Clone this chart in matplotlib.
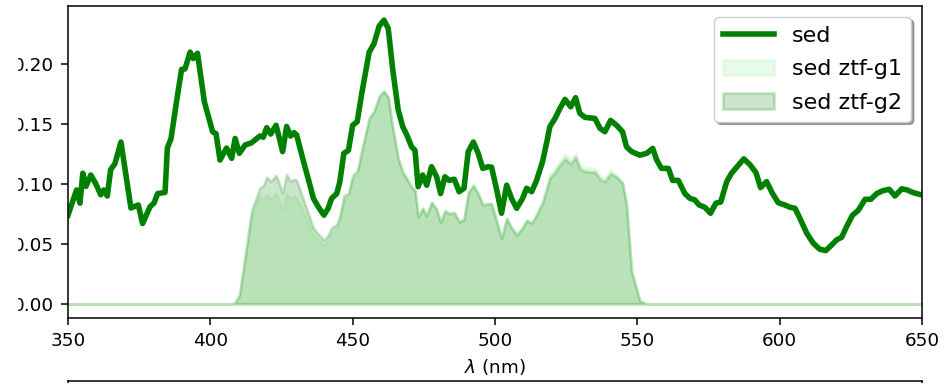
import numpy as np
import matplotlib
matplotlib.use('Agg')
import matplotlib.pyplot as plt
from matplotlib.patches import Rectangle

wave = [350, 353, 354.2, 355.2, 356.3, 358, 359.8, 361.5, 362.6, 363.8,
        365, 366.5, 368.6, 372.1, 374.7, 376.2, 378.8, 380.2, 381.5, 384.1,
        384.9, 386.2, 388.4, 389.9, 391.1, 392.9, 394.0, 395.5, 397.9, 400.8,
        402, 403.4, 405.7, 407.5, 408.7, 410.2, 412.2, 414.5, 417.4, 418.6,
        419.8, 421.2, 423.1, 425.4, 426.8, 428.2, 429.4, 430.3, 432.6, 435,
        436.2, 437.9, 439.9, 441.4, 442.6, 444.4, 445.5, 446.9, 448.5, 450,
        451.6, 453.2, 455.8, 457.5, 459.3, 461, 462.5, 464.1, 466, 467.6,
        469, 470.7, 471.9, 473, 474.6, 476, 477.7, 479.5, 480.9, 482.4,
        483.9, 485.7, 487.4, 489.1, 490.6, 492.4, 494.1, 495.7, 497.6, 498.8,
        500.6, 502.3, 504.1, 505.8, 507.6, 509.7, 511.1, 512.9, 514.6, 516.7,
        518.1, 519.3, 521.1, 522.8, 524.6, 526.6, 528.3, 529.8, 531.6, 535.1,
        536.9, 538.6, 540.6, 542.7, 544.8, 546.2, 548, 550.9, 553.3, 555.4,
        556.8, 558.5, 560.9, 562.4, 564.4, 566.7, 568.5, 570.2, 571.7, 573.7,
        575.7, 577.6, 579.3, 581.4, 583.1, 587.4, 589.6, 591.7, 593.3, 595.4,
        597.5, 599.5, 601.8, 603.6, 605.4, 607.1, 609.5, 611.8, 614.1, 616.2,
        618.2, 620, 621.8, 623.5, 625.6, 627.6, 630, 632, 634.1, 636.2,
        638.5, 640.5, 642.9, 644.8, 646.9, 650]

sed = [0.074, 0.095, 0.084, 0.109, 0.098, 0.1075, 0.100, 0.091, 0.095, 0.090,
       0.112, 0.117, 0.135, 0.080, 0.0825, 0.067, 0.081, 0.084, 0.092, 0.093,
       0.130, 0.138, 0.173, 0.1956, 0.196, 0.210, 0.2047, 0.209, 0.1686, 0.1436,
       0.142, 0.120, 0.130, 0.1214, 0.138, 0.1256, 0.1325, 0.1344, 0.140, 0.139,
       0.147, 0.1417, 0.149, 0.127, 0.148, 0.140, 0.1428, 0.141, 0.120, 0.099,
       0.088, 0.081, 0.074, 0.0797, 0.088, 0.092, 0.102, 0.1256, 0.128, 0.149,
       0.152, 0.1756, 0.210, 0.217, 0.2317, 0.2367, 0.2297, 0.195, 0.1617, 0.1478,
       0.141, 0.131, 0.128, 0.0978, 0.1075, 0.099, 0.1144, 0.106, 0.092, 0.106,
       0.103, 0.104, 0.0936, 0.0964, 0.127, 0.135, 0.1256, 0.113, 0.1144, 0.114,
       0.095, 0.0756, 0.099, 0.088, 0.0797, 0.088, 0.0964, 0.0936, 0.103, 0.1186,
       0.134, 0.148, 0.1547, 0.163, 0.1706, 0.1644, 0.172, 0.159, 0.1556, 0.1547,
       0.1464, 0.1436, 0.153, 0.149, 0.1436, 0.131, 0.127, 0.124, 0.1256, 0.1297,
       0.120, 0.113, 0.113, 0.103, 0.103, 0.092, 0.088, 0.0867, 0.0825, 0.0806,
       0.0756, 0.084, 0.085, 0.102, 0.109, 0.121, 0.116, 0.1094, 0.097, 0.102,
       0.092, 0.0844, 0.0825, 0.0806, 0.0797, 0.0714, 0.059, 0.0506, 0.0456, 0.0444,
       0.049, 0.0533, 0.0556, 0.0644, 0.074, 0.078, 0.0872, 0.0872, 0.092, 0.0944,
       0.0956, 0.090, 0.096, 0.095, 0.0928, 0.0908]

# filter throughput from 408.7 nm to 553.3 nm (zero elsewhere)
band_start = 34
g1_band = [0.0, 0.05, 0.28, 0.55, 0.64, 0.63, 0.62, 0.62, 0.62, 0.62,
           0.62, 0.63, 0.63, 0.63, 0.64, 0.65, 0.65, 0.66, 0.66, 0.67,
           0.67, 0.68, 0.69, 0.69, 0.70, 0.70, 0.71, 0.72, 0.73, 0.74,
           0.74, 0.75, 0.75, 0.75, 0.75, 0.75, 0.75, 0.75, 0.75, 0.75,
           0.75, 0.75, 0.75, 0.75, 0.75, 0.74, 0.74, 0.74, 0.74, 0.74,
           0.74, 0.74, 0.74, 0.74, 0.74, 0.74, 0.73, 0.73, 0.73, 0.73,
           0.73, 0.73, 0.73, 0.73, 0.73, 0.73, 0.73, 0.73, 0.73, 0.73,
           0.73, 0.73, 0.73, 0.73, 0.73, 0.73, 0.73, 0.73, 0.73, 0.72,
           0.71, 0.64, 0.22, 0.02, 0.0]
g2_band = [0.01, 0.06, 0.30, 0.58, 0.69, 0.71, 0.72, 0.72, 0.72, 0.73,
           0.73, 0.73, 0.73, 0.73, 0.73, 0.72, 0.72, 0.72, 0.72, 0.72,
           0.72, 0.72, 0.72, 0.72, 0.72, 0.72, 0.73, 0.73, 0.74, 0.74,
           0.75, 0.75, 0.75, 0.75, 0.75, 0.74, 0.74, 0.74, 0.74, 0.74,
           0.74, 0.74, 0.74, 0.74, 0.74, 0.73, 0.73, 0.73, 0.73, 0.73,
           0.73, 0.73, 0.73, 0.73, 0.73, 0.73, 0.72, 0.72, 0.72, 0.72,
           0.72, 0.72, 0.72, 0.72, 0.72, 0.71, 0.71, 0.71, 0.71, 0.71,
           0.71, 0.71, 0.71, 0.71, 0.71, 0.71, 0.71, 0.71, 0.71, 0.71,
           0.70, 0.63, 0.21, 0.02, 0.0]


def full_band(band):
    return [0.0] * band_start + band + [0.0] * (len(wave) - band_start - len(band))


def makeplot():
    w = np.array(wave)
    flux = np.array(sed)
    sed_g1 = flux * np.array(full_band(g1_band))
    sed_g2 = flux * np.array(full_band(g2_band))

    fig = plt.figure(figsize=(9.47, 3.83), dpi=100)
    ax = fig.add_axes([68 / 947, 65 / 383, 854 / 947, 312 / 383])
    ax.plot(w, flux, color='green', linewidth=4, label='sed')
    ax.fill_between(w, sed_g1, color='lightgreen', alpha=0.2, linewidth=2, label='sed ztf-g1')
    ax.fill_between(w, sed_g2, color='green', alpha=0.2, linewidth=2, label='sed ztf-g2')
    ax.set_xlim(350, 650)
    ax.set_ylim(-0.0118, 0.2485)
    ax.set_xlabel(r'$\lambda$ (nm)', fontsize=13.2, labelpad=5)
    ax.tick_params(labelsize=13.2, length=4.8, width=1.1, pad=5.5)
    for s in ax.spines.values():
        s.set_linewidth(1.1)
    ax.legend(loc='upper right', shadow=True, fontsize=16, handlelength=2.3,
              labelspacing=0.6)

    # next panel starts just below
    ax2 = fig.add_axes([68 / 947, -0.5, 854 / 947, 0.5 + 2.5 / 383])
    ax2.set_xticks([])
    ax2.set_yticks([])
    for s in ax2.spines.values():
        s.set_linewidth(1.1)

    fig.add_artist(Rectangle((0, 0), 16.5 / 947, 1, transform=fig.transFigure,
                             color='white', zorder=10))
    fig.savefig('out.png', dpi=100)


makeplot()
